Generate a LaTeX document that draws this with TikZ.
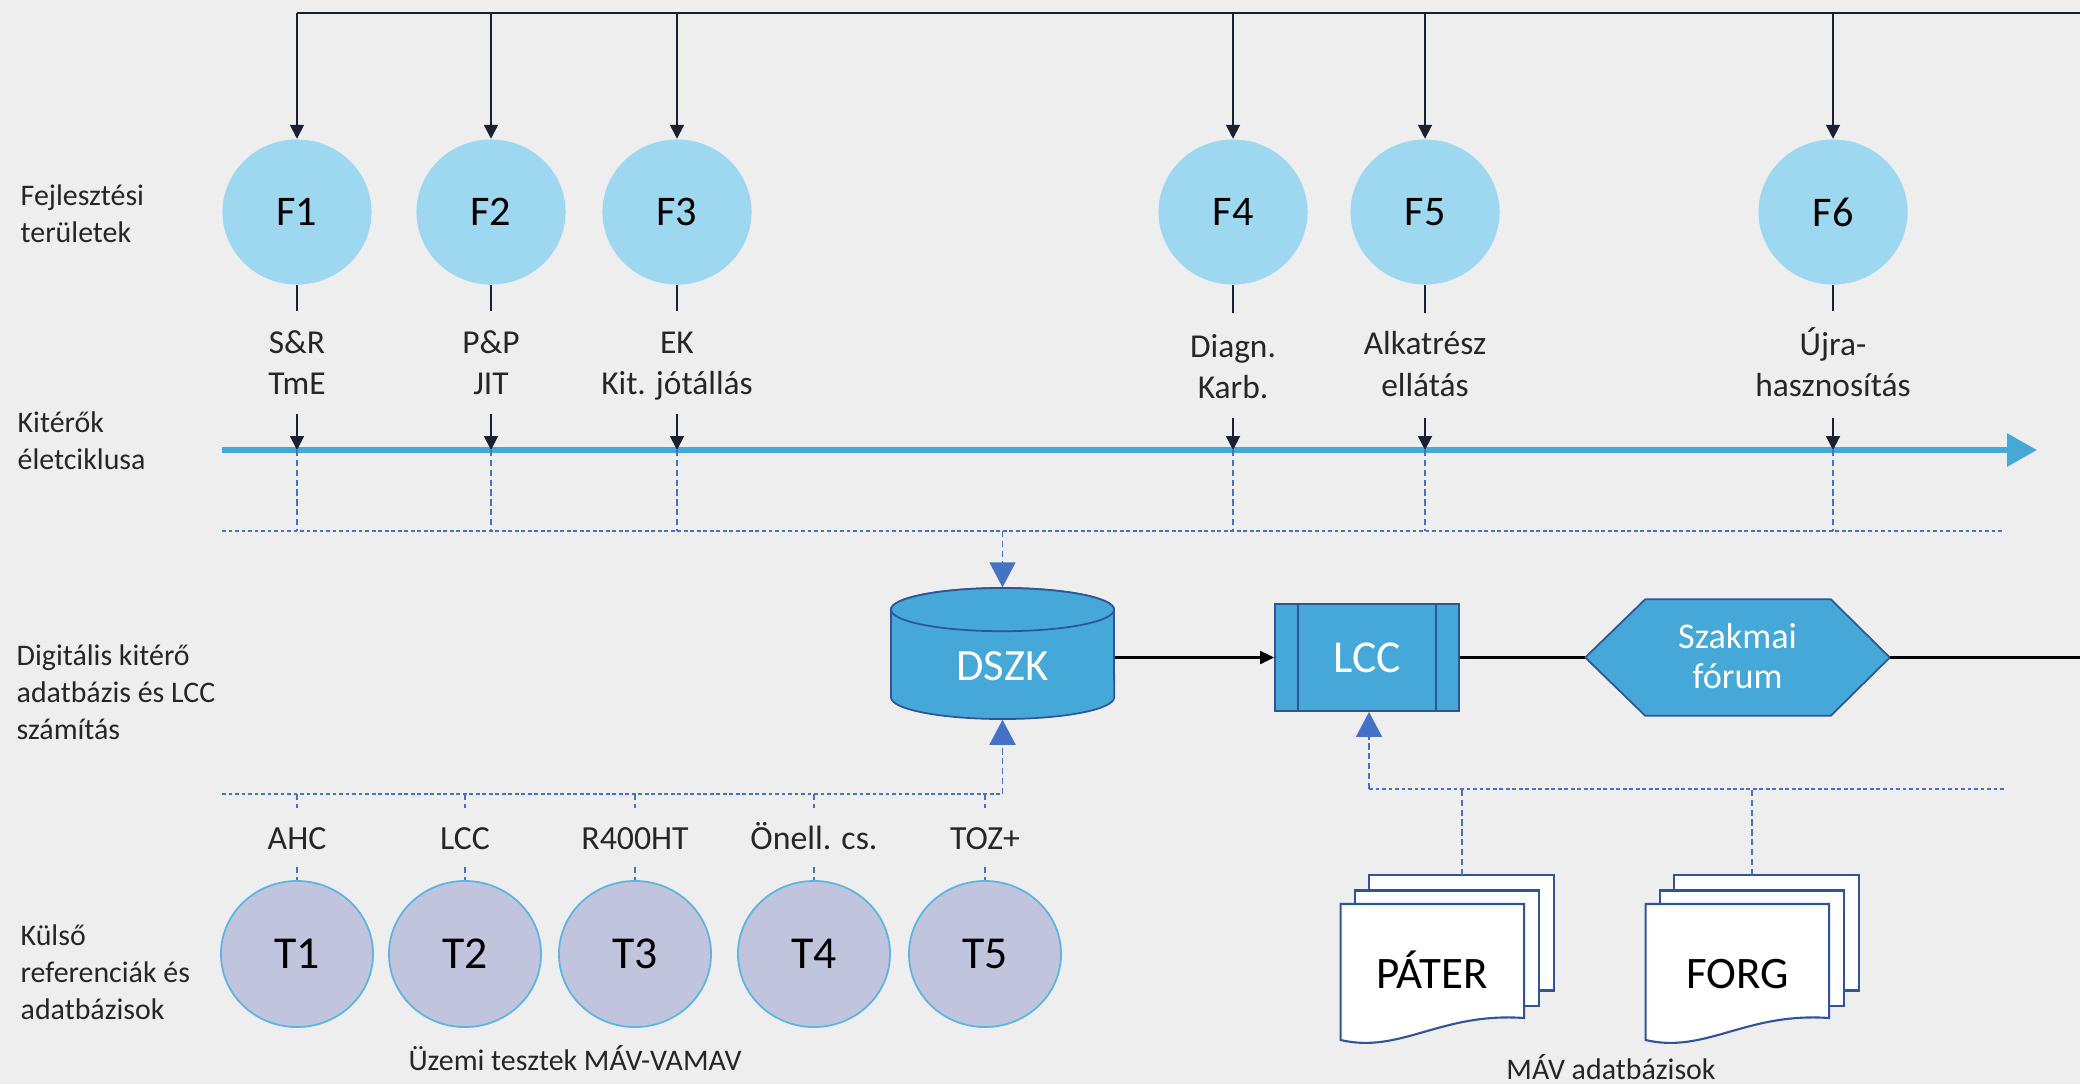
\documentclass[tikz,border=0pt]{standalone}
\usepackage{fontspec}
\setmainfont{Carlito}
\usetikzlibrary{arrows.meta,positioning,calc,shapes.geometric}
\definecolor{bggrey}{HTML}{EEEEEE}
\definecolor{flight}{HTML}{9DD7F0}
\definecolor{tgrey}{HTML}{C0C4DC}
\definecolor{tring}{HTML}{5BB4E3}
\definecolor{boxblue}{HTML}{46A8D8}
\definecolor{boxedge}{HTML}{2F5597}
\definecolor{linkblue}{HTML}{4472C4}
\definecolor{inkdark}{HTML}{1C2033}
\tikzset{
  fnode/.style = {ellipse, fill=flight, inner sep=0pt, minimum width=1.49cm, minimum height=1.45cm, font=\fontsize{12}{14}\selectfont},
  tnode/.style = {ellipse, fill=tgrey, draw=tring, line width=0.5pt, inner sep=0pt, minimum width=1.52cm, minimum height=1.46cm, font=\fontsize{13}{15}\selectfont},
  flabel/.style = {align=center, inner sep=0pt, text=black!85, font=\fontsize{9.5}{11.7}\selectfont},
  tlabel/.style = {anchor=base, inner sep=0pt, text=black!85, font=\fontsize{9.6}{11}\selectfont},
  rowlabel/.style = {align=left, anchor=west, inner sep=0pt, text=black!85, font=\fontsize{8.5}{10.5}\selectfont},
  feed/.style = {-{Triangle[length=0.14cm, width=0.14cm]}, inkdark, line width=0.5pt},
  stub/.style = {inkdark, line width=0.45pt},
  lifeline/.style = {-{Triangle[length=0.3cm, width=0.32cm]}, boxblue, line width=1.7pt},
  vdash/.style = {linkblue, line width=0.5pt, dash pattern=on 1.8pt off 1pt},
  hdot/.style = {linkblue, line width=0.5pt, dash pattern=on 1.1pt off 0.75pt},
  bluetip/.style = {-{Triangle[length=0.25cm, width=0.26cm]}},
  block/.style = {fill=boxblue, draw=boxedge, line width=0.5pt},
  blocktext/.style = {inner sep=0pt, text=white},
  flow/.style = {black, line width=0.6pt},
  docpage/.style = {fill=white, draw=boxedge, line width=0.6pt},
  docname/.style = {anchor=base, inner sep=0pt, font=\fontsize{12.8}{14}\selectfont},
  caption/.style = {anchor=base, inner sep=0pt, text=black!85, font=\fontsize{8.5}{10.5}\selectfont},
}

\begin{document}
\begin{tikzpicture}[x=0.01cm, y=0.01cm]

\fill[bggrey] (0,0) rectangle (2080,-1084);
\useasboundingbox (0,0) rectangle (2080,-1084);

% row titles
\node[rowlabel] (r1) at (20,-214) {Fejlesztési\\területek};
\node[rowlabel] (r2) at (17,-441) {Kitérők\\életciklusa};
\node[rowlabel] (r3) at (16,-692) {Digitális kitérő\\adatbázis és LCC\\számítás};
\node[rowlabel] (r4) at (20,-972) {Külső\\referenciák és\\adatbázisok};

% buses and lifecycle
\coordinate (topbar) at (297,-13);
\coordinate (lifestart) at (222,-450);
\coordinate (lifeend) at (2037,-450);
\coordinate (lifebus) at (222,-531);
\coordinate (testbus) at (222,-794);
\coordinate (mavbus) at (1369,-789);

\draw[inkdark, line width=0.7pt] (topbar) -- (2080,-13);
\draw[hdot] (lifebus) -- (2004,-531);
\draw[lifeline] (lifestart) -- (lifeend);

% development areas
\node[fnode] (F1) at (297,-212) {F1};
\node[fnode] (F2) at (491,-212) {F2};
\node[fnode] (F3) at (677,-212) {F3};
\node[fnode] (F4) at (1233,-212) {F4};
\node[fnode] (F5) at (1425,-212) {F5};
\node[fnode] (F6) at (1833,-212) {F6};

\node[flabel] (fl1) at (297,-363) {S\&R\\TmE};
\node[flabel] (fl2) at (491,-363) {P\&P\\JIT};
\node[flabel] (fl3) at (677,-366) {EK\\Kit. jótállás};
\node[flabel] (fl4) at (1233,-367) {Diagn.\\Karb.};
\node[flabel] (fl5) at (1425,-364) {Alkatrész\\ellátás};
\node[flabel] (fl6) at (1833,-362) {Újra-\\hasznosítás};

\draw[feed] (F1 |- topbar) -- (F1.north);
\draw[feed] (F2 |- topbar) -- (F2.north);
\draw[feed] (F3 |- topbar) -- (F3.north);
\draw[feed] (F4 |- topbar) -- (F4.north);
\draw[feed] (F5 |- topbar) -- (F5.north);
\draw[feed] (F6 |- topbar) -- (F6.north);

\draw[stub] (F1.south) -- ++(0,-26);
\draw[stub] (F2.south) -- ++(0,-26);
\draw[stub] (F3.south) -- ++(0,-26);
\draw[stub] (F4.south) -- ++(0,-28);
\draw[stub] (F5.south) -- ++(0,-28);
\draw[stub] (F6.south) -- ++(0,-26);

\draw[feed] ($(F1 |- lifestart)+(0,36)$) -- (F1 |- lifestart);
\draw[feed] ($(F2 |- lifestart)+(0,36)$) -- (F2 |- lifestart);
\draw[feed] ($(F3 |- lifestart)+(0,36)$) -- (F3 |- lifestart);
\draw[feed] ($(F4 |- lifestart)+(0,32)$) -- (F4 |- lifestart);
\draw[feed] ($(F5 |- lifestart)+(0,32)$) -- (F5 |- lifestart);
\draw[feed] ($(F6 |- lifestart)+(0,32)$) -- (F6 |- lifestart);

\draw[vdash] (F1 |- lifestart) -- (F1 |- lifebus);
\draw[vdash] (F2 |- lifestart) -- (F2 |- lifebus);
\draw[vdash] (F3 |- lifestart) -- (F3 |- lifebus);
\draw[vdash] (F4 |- lifestart) -- (F4 |- lifebus);
\draw[vdash] (F5 |- lifestart) -- (F5 |- lifebus);
\draw[vdash] (F6 |- lifestart) -- (F6 |- lifebus);

% database, LCC, forum
\node[inner sep=0pt, minimum width=2.23cm, minimum height=1.31cm] (dszk) at (1002.5,-653.5) {};
\draw[block] (891,-609.6) -- (891,-697.4)
  arc[start angle=180, end angle=360, x radius=1.115cm, y radius=0.216cm]
  -- (1114,-609.6)
  arc[start angle=0, end angle=180, x radius=1.115cm, y radius=0.216cm] -- cycle;
\draw[block] (1002.5,-609.6) ellipse [x radius=1.115cm, y radius=0.216cm];
\node[blocktext, font=\fontsize{12.7}{14}\selectfont] at (1002.5,-666) {DSZK};

\node[block, blocktext, minimum width=1.84cm, minimum height=1.07cm,
  font=\fontsize{13}{14}\selectfont] (lcc) at (1367,-657.5) {LCC};
\draw[boxedge, line width=0.5pt] ($(lcc.north west)+(24,0)$) -- ($(lcc.south west)+(24,0)$);
\draw[boxedge, line width=0.5pt] ($(lcc.north east)+(-24,0)$) -- ($(lcc.south east)+(-24,0)$);

\node[inner sep=0pt, minimum width=3.03cm, minimum height=1.15cm] (forum) at (1737.5,-657.5) {};
\draw[block] (forum.west) -- ($(forum.north west)+(60,0)$) -- ($(forum.north east)+(-59,0)$)
  -- (forum.east) -- ($(forum.south east)+(-59,0)$) -- ($(forum.south west)+(60,0)$) -- cycle;
\node[blocktext, align=center, font=\fontsize{10.3}{11.4}\selectfont] at (1737.5,-656) {Szakmai\\fórum};

\coordinate (rightedge) at (2080,-657.5);
\draw[flow, -{Triangle[length=0.14cm, width=0.13cm]}] (dszk.east |- lcc.west) -- (lcc.west);
\draw[flow] (lcc.east) -- (forum.west);
\draw[flow] (forum.east) -- (rightedge);

\draw[vdash, bluetip] (dszk.north |- lifebus) -- (dszk.north);

% plant tests
\node[tnode] (T1) at (297,-954) {T1};
\node[tnode] (T2) at (465,-954) {T2};
\node[tnode] (T3) at (635,-954) {T3};
\node[tnode] (T4) at (814,-954) {T4};
\node[tnode] (T5) at (985,-954) {T5};

\node[tlabel] (tl1) at (297,-849) {AHC};
\node[tlabel] (tl2) at (465,-849) {LCC};
\node[tlabel] (tl3) at (635,-849) {R400HT};
\node[tlabel] (tl4) at (814,-849) {Önell. cs.};
\node[tlabel] (tl5) at (985,-849) {TOZ+};

\draw[hdot] (testbus) -- (dszk.south |- testbus);
\draw[vdash, bluetip] (dszk.south |- testbus) -- (dszk.south);

\draw[vdash] (T1 |- testbus) -- ++(0,-14);
\draw[vdash] (T2 |- testbus) -- ++(0,-14);
\draw[vdash] (T3 |- testbus) -- ++(0,-14);
\draw[vdash] (T4 |- testbus) -- ++(0,-14);
\draw[vdash] (T5 |- testbus) -- ++(0,-14);

\draw[vdash] ($(T1.north)+(0,13)$) -- (T1.north);
\draw[vdash] ($(T2.north)+(0,13)$) -- (T2.north);
\draw[vdash] ($(T3.north)+(0,13)$) -- (T3.north);
\draw[vdash] ($(T4.north)+(0,13)$) -- (T4.north);
\draw[vdash] ($(T5.north)+(0,13)$) -- (T5.north);

\node[caption] (tests) at (575,-1070) {Üzemi tesztek MÁV-VAMAV};

% MAV databases
\begin{scope}[shift={(1340.6,-904)}]
  \draw[docpage] (28.5,29) rectangle (213.4,-86.5);
  \draw[docpage] (14.5,13.5) rectangle (198.5,-101.6);
  \draw[docpage] (0,0) -- (183.5,0) -- (183.5,-114)
    .. controls (100,-108) and (60,-150) .. (0,-136) -- cycle;
  \node[docname] (pater) at (91.75,-84) {PÁTER};
  \coordinate (patertop) at (121,29);
\end{scope}

\begin{scope}[shift={(1645.6,-904)}]
  \draw[docpage] (28.5,29) rectangle (213.4,-86.5);
  \draw[docpage] (14.5,13.5) rectangle (198.5,-101.6);
  \draw[docpage] (0,0) -- (183.5,0) -- (183.5,-114)
    .. controls (100,-108) and (60,-150) .. (0,-136) -- cycle;
  \node[docname] (forg) at (91.75,-84) {FORG};
  \coordinate (forgtop) at (106,29);
\end{scope}

\draw[hdot] (mavbus) -- (2006,-789);
\draw[vdash, bluetip] (mavbus) -- (mavbus |- lcc.south);
\draw[vdash] (patertop) -- (patertop |- mavbus);
\draw[vdash] (forgtop) -- (forgtop |- mavbus);

\node[caption] (mav) at (1611,-1079) {MÁV adatbázisok};

\end{tikzpicture}
\end{document}
